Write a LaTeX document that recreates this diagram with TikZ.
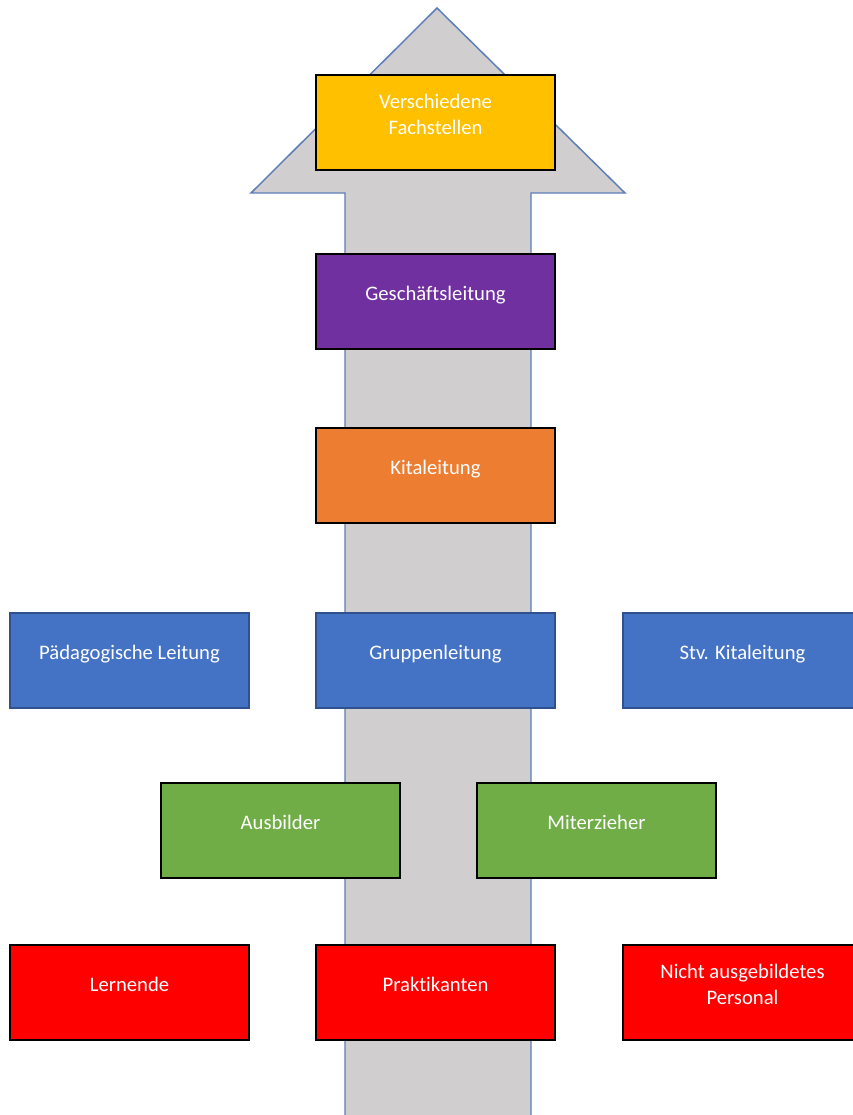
\documentclass[tikz,border=0pt]{standalone}
\usepackage{fontspec}
\setmainfont{Carlito}[Ligatures=CommonOff]
\usepackage{tikz}
\usepackage[dvipsnames]{xcolor}

\definecolor{arrowgray}{HTML}{D0CECE}
\definecolor{arrowblue}{HTML}{5B7DB8}
\definecolor{fachgold}{HTML}{FFC000}
\definecolor{leitpurple}{HTML}{7030A0}
\definecolor{kitaorange}{HTML}{ED7D31}
\definecolor{gruppeblue}{HTML}{4472C4}
\definecolor{gruppeline}{HTML}{2F528F}
\definecolor{ausbgreen}{HTML}{70AD47}
\definecolor{lernred}{HTML}{FF0000}

\tikzset{
    rolebox/.style={rectangle, draw=black, line width=1pt, text=white,
        minimum width=179.25pt, minimum height=71.25pt, align=center,
        font=\fontsize{15.5}{19.5}\selectfont, text height=10pt, text depth=11pt},
    twoline/.style={text height=26pt, text depth=8pt}
}

\begin{document}
\begin{tikzpicture}[x=0.75pt, y=-0.75pt]
    \useasboundingbox (0,0) rectangle (853,1115);
    \clip (0,0) rectangle (853,1115);

    % Define coordinates for the big arrow
    \coordinate (Tip) at (437,8);
    \coordinate (HeadL) at (251,193);
    \coordinate (HeadR) at (625,193);
    \coordinate (ShaftL) at (345,193);
    \coordinate (ShaftR) at (531,193);
    \coordinate (FootL) at (345,1125);
    \coordinate (FootR) at (531,1125);

    % Draw the arrow behind the boxes
    \draw[fill=arrowgray, draw=arrowblue, line width=1.1pt, line join=miter]
        (FootL) -- (ShaftL) -- (HeadL) -- (Tip) -- (HeadR) -- (ShaftR) -- (FootR);

    % Top of the hierarchy
    \node[rolebox, twoline, fill=fachgold] (Fachstellen) at (435.5,122.5) {Verschiedene\\Fachstellen};
    \node[rolebox, fill=leitpurple] (Geschaeftsleitung) at (435.5,301.5) {Geschäftsleitung};
    \node[rolebox, fill=kitaorange] (Kitaleitung) at (435.5,475.5) {Kitaleitung};

    % Leitung row
    \foreach \name/\x/\txt in {Paedagogik/129.5/Pädagogische Leitung,
                               Gruppenleitung/435.5/Gruppenleitung,
                               StvKitaleitung/742.5/Stv. Kitaleitung}
        \node[rolebox, fill=gruppeblue, draw=gruppeline] (\name) at (\x,660.5) {\txt};

    % Ausbildung row
    \node[rolebox, fill=ausbgreen] (Ausbilder) at (280.5,830.5) {Ausbilder};
    \node[rolebox, fill=ausbgreen] (Miterzieher) at (596.5,830.5) {Miterzieher};

    % Bottom row
    \node[rolebox, fill=lernred] (Lernende) at (129.5,992.5) {Lernende};
    \node[rolebox, fill=lernred] (Praktikanten) at (435.5,992.5) {Praktikanten};
    \node[rolebox, twoline, fill=lernred] (Personal) at (742.5,992.5) {Nicht ausgebildetes\\Personal};
\end{tikzpicture}
\end{document}
